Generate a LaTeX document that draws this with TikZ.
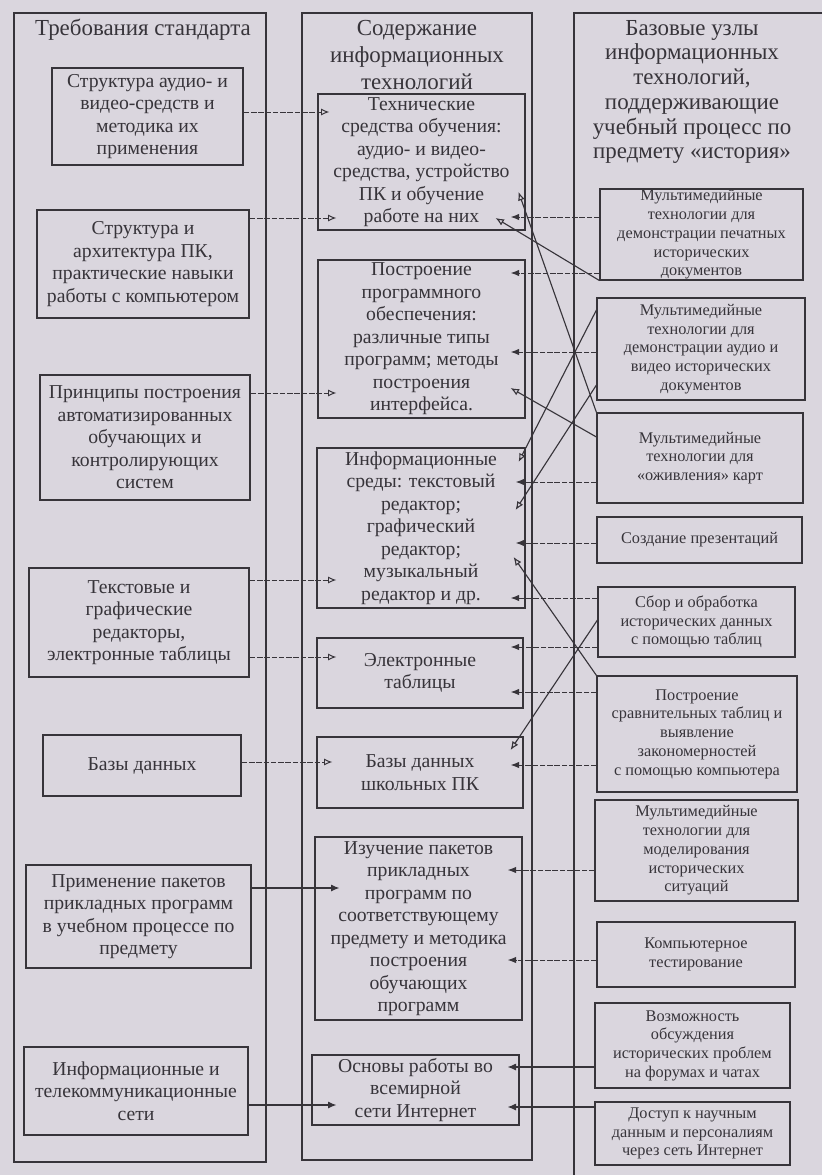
\documentclass[tikz,border=0pt]{standalone}
\usepackage{fontspec}
\setmainfont{Liberation Serif}
\usetikzlibrary{arrows.meta,calc}
\definecolor{paper}{RGB}{218,214,222}
\definecolor{ink}{RGB}{55,52,58}
\newcommand\bx[7]{\node[#2, minimum width={(#5-#3)*0.025cm}, minimum height={(#6-#4)*0.025cm}] (#1) at ({(#3+#5)/2},{(#4+#6)/2}) {#7};}
\begin{document}
\begin{tikzpicture}[x=0.025cm,y=-0.025cm,
  box/.style={draw=ink, line width=0.8pt, inner sep=0pt, align=center, text=ink, font=\fontsize{14}{16}\selectfont},
  sbox/.style={box, font=\fontsize{11.6}{13.3}\selectfont},
  ttl/.style={align=center, text=ink, inner sep=0pt},
  frame/.style={draw=ink, line width=0.8pt},
  la/.style={draw=ink, line width=0.7pt, dash pattern=on 4pt off 1.2pt, -{Latex[open,length=6pt,width=5pt]}},
  lb/.style={draw=ink, line width=0.8pt, -{Latex[length=6pt,width=5pt]}},
  ra/.style={draw=ink, line width=0.7pt, dash pattern=on 4pt off 1.2pt, -{Latex[length=6pt,width=4.5pt]}},
  da/.style={draw=ink, line width=0.8pt, -{Latex[open,length=6pt,width=5pt]}},
]
\fill[paper] (0,0) rectangle (822,1175);
\useasboundingbox (0,0) rectangle (822,1175);

% column frames
\draw[frame] (14,13) rectangle (266,1162);
\draw[frame] (302,13) rectangle (532,1160);
\draw[frame] (822,13) -- (574,13) -- (574,1175);

% titles
\node[ttl, font=\fontsize{16.3}{18}\selectfont] (TL) at (143,30) {Требования стандарта};
\node[ttl, font=\fontsize{16.3}{19.3}\selectfont] (TM) at (417,55) {Содержание\\информационных\\технологий};
\node[ttl, font=\fontsize{16.3}{17.6}\selectfont] (TR) at (692,92) {Базовые узлы\\информационных\\технологий,\\поддерживающие\\учебный процесс по\\предмету «история»};

% left boxes
\bx{L1}{box}{52}{68}{243}{165}{Структура аудио- и\\видео-средств и\\методика их\\применения}
\bx{L2}{box}{37}{210}{249}{318}{Структура и\\архитектура ПК,\\практические навыки\\работы с компьютером}
\bx{L3}{box}{40}{375}{250}{500}{Принципы построения\\автоматизированных\\обучающих и\\контролирующих\\систем}
\bx{L4}{box}{29}{568}{249}{677}{Текстовые и\\графические\\редакторы,\\электронные таблицы}
\bx{L5}{box}{43}{735}{241}{796}{Базы данных}
\bx{L6}{box}{26}{865}{251}{968}{Применение пакетов\\прикладных программ\\в учебном процессе по\\предмету}
\bx{L7}{box}{24}{1047}{248}{1135}{Информационные и\\телекоммуникационные\\сети}

% middle boxes
\bx{M1}{box}{318}{94}{525}{230}{Технические\\средства обучения:\\аудио- и видео-\\средства, устройство\\ПК и обучение\\работе на них}
\bx{M2}{box}{318}{260}{525}{418}{Построение\\программного\\обеспечения:\\различные типы\\программ; методы\\построения\\интерфейса.}
\bx{M3}{box}{317}{448}{525}{608}{Информационные\\среды: текстовый\\редактор;\\графический\\редактор;\\музыкальный\\редактор и др.}
\bx{M4}{box}{317}{638}{523}{708}{Электронные\\таблицы}
\bx{M5}{box}{317}{737}{523}{808}{Базы данных\\школьных ПК}
\bx{M6}{box}{315}{837}{522}{1020}{Изучение пакетов\\прикладных\\программ по\\соответствующему\\предмету и методика\\построения\\обучающих\\программ}
\bx{M7}{box}{312}{1055}{519}{1125}{Основы работы во\\всемирной\\сети Интернет}

% right boxes
\bx{R1}{sbox}{600}{189}{803}{280}{Мультимедийные\\технологии для\\демонстрации печатных\\исторических\\документов}
\bx{R2}{sbox}{597}{298}{805}{400}{Мультимедийные\\технологии для\\демонстрации аудио и\\видео исторических\\документов}
\bx{R3}{sbox}{597}{413}{803}{503}{Мультимедийные\\технологии для\\«оживления» карт}
\bx{R4}{sbox}{597}{517}{802}{563}{Создание презентаций}
\bx{R5}{sbox}{598}{587}{795}{657}{Сбор и обработка\\исторических данных\\с помощью таблиц}
\bx{R6}{sbox}{597}{676}{797}{792}{Построение\\сравнительных таблиц и\\выявление\\закономерностей\\с помощью компьютера}
\bx{R7}{sbox}{595}{800}{798}{901}{Мультимедийные\\технологии для\\моделирования\\исторических\\ситуаций}
\bx{R8}{sbox}{597}{922}{795}{987}{Компьютерное\\тестирование}
\bx{R9}{sbox}{595}{1003}{790}{1088}{Возможность\\обсуждения\\исторических проблем\\на форумах и чатах}
\bx{R10}{sbox}{595}{1102}{790}{1165}{Доступ к научным\\данным и персоналиям\\через сеть Интернет}

% left -> middle
\draw[la] (L1.east |- 0,112) -- ($(M1.west |- 0,112)+(12,0)$);
\draw[la] (L2.east |- 0,218) -- ($(M1.west |- 0,218)+(19,0)$);
\draw[la] (L3.east |- 0,393) -- ($(M2.west |- 0,393)+(19,0)$);
\draw[la] (L4.east |- 0,580) -- ($(M3.west |- 0,580)+(20,0)$);
\draw[la] (L4.east |- 0,657) -- ($(M4.west |- 0,657)+(20,0)$);
\draw[la] (L5.east |- 0,762) -- ($(M5.west |- 0,762)+(16,0)$);
\draw[lb] (L6.east |- 0,888) -- ($(M6.west |- 0,888)+(25,0)$);
\draw[lb] (L7.east |- 0,1105) -- ($(M7.west |- 0,1105)+(25,0)$);

% right -> middle (horizontal)
\draw[ra] (R1.west |- 0,217) -- ($(M1.east |- 0,217)+(-15,0)$);
\draw[ra] (R1.west |- 0,273) -- ($(M2.east |- 0,273)+(-15,0)$);
\draw[ra] (R2.west |- 0,352) -- ($(M2.east |- 0,352)+(-15,0)$);
\draw[ra] (R3.west |- 0,482) -- ($(M3.east |- 0,482)+(-10,0)$);
\draw[ra] (R4.west |- 0,543) -- ($(M3.east |- 0,543)+(-10,0)$);
\draw[ra] (R5.west |- 0,598) -- ($(M3.east |- 0,598)+(-15,0)$);
\draw[ra] (R5.west |- 0,647) -- ($(M4.east |- 0,647)+(-13,0)$);
\draw[ra] (R6.west |- 0,692) -- ($(M4.east |- 0,692)+(-13,0)$);
\draw[ra] (R6.west |- 0,765) -- ($(M5.east |- 0,765)+(-13,0)$);
\draw[ra] (R7.west |- 0,870) -- ($(M6.east |- 0,870)+(-15,0)$);
\draw[ra] (R8.west |- 0,960) -- ($(M6.east |- 0,960)+(-15,0)$);
\draw[lb] (R9.west |- 0,1067) -- ($(M7.east |- 0,1067)+(-12,0)$);
\draw[lb] (R10.west |- 0,1107) -- ($(M7.east |- 0,1107)+(-12,0)$);

% right -> middle (diagonal)
\draw[da] (R1.south west) -- ($(M1.east |- 0,218)+(-30,0)$);
\draw[da] (R3.north west) -- ($(M1.east |- 0,192)+(-7,0)$);
\draw[da] (R3.west |- 0,437) -- ($(M2.east |- 0,388)+(-15,0)$);
\draw[da] (R2.west |- 0,310) -- ($(M3.east |- 0,462)+(-7,0)$);
\draw[da] (R2.west |- 0,385) -- ($(M3.east |- 0,510)+(-10,0)$);
\draw[da] (R6.north west) -- ($(M3.east |- 0,557)+(-12,0)$);
\draw[da] (R5.west |- 0,620) -- ($(M5.east |- 0,750)+(-13,0)$);
\end{tikzpicture}
\end{document}
